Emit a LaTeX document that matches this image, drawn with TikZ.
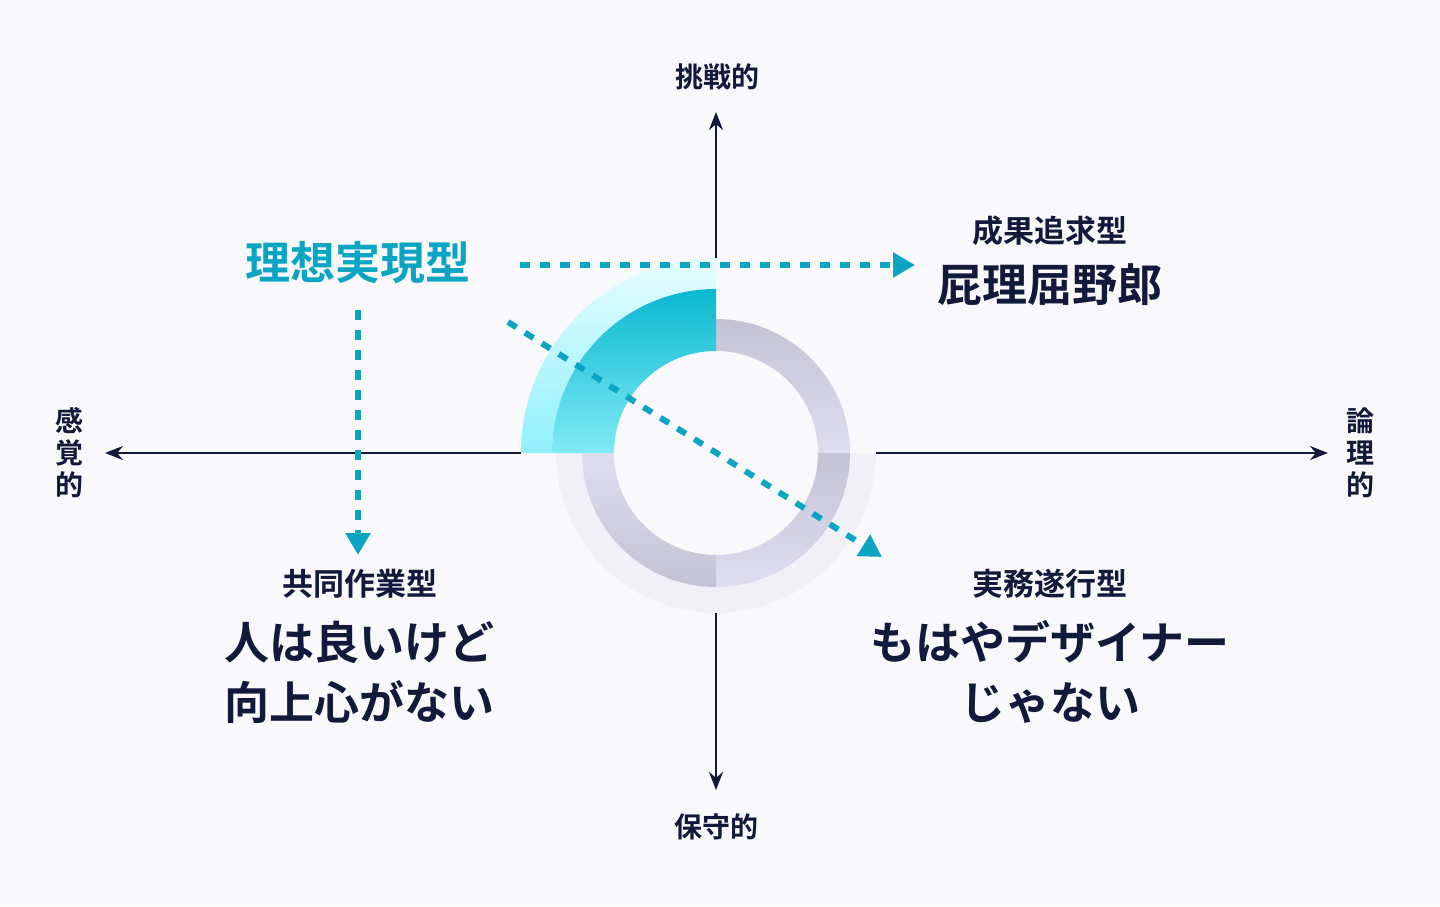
\documentclass[tikz,border=0pt]{standalone}
\usepackage{fontspec}
\setmainfont{Noto Sans CJK JP}[BoldFont={Noto Sans CJK JP Bold}]
\usetikzlibrary{positioning,arrows.meta}
\definecolor{ink}{HTML}{111A3B}
\definecolor{teal}{HTML}{0BA5C4}
\definecolor{faint}{HTML}{F1F0F7}
\definecolor{bgc}{HTML}{F9F9FC}
\definecolor{grayA}{HTML}{C4C2D5}
\definecolor{grayB}{HTML}{DFDEF1}
\definecolor{cyanA}{HTML}{09B9D1}
\definecolor{cyanB}{HTML}{80EAF6}
\definecolor{cyanC}{HTML}{E6FDFF}
\definecolor{cyanD}{HTML}{90F0FC}
\tikzset{axis/.style={draw=ink, line width=1.2pt, -{Stealth[length=9pt,width=7pt]}}}
\tikzset{dotarr/.style={draw=teal, line width=3pt, dash pattern=on 5pt off 5pt, -{Triangle[length=11pt,width=12pt]}}}
\tikzset{axlab/.style={text=ink, font=\bfseries\fontsize{14}{16}\selectfont, align=center}}
\tikzset{typelab/.style={text=ink, font=\bfseries\fontsize{15.5}{18}\selectfont}}
\tikzset{biglab/.style={text=ink, font=\bfseries\fontsize{22.5}{30}\selectfont, align=center}}
\newcommand\ringseg[4]{(#1:#3) -- (#1:#4) arc[start angle=#1, end angle=#2, radius=#4] -- (#2:#3) arc[start angle=#2, end angle=#1, radius=#3] -- cycle}
\begin{document}
\begin{tikzpicture}[x=1pt,y=1pt,scale=0.5]
			\fill[bgc] (-716,-453) rectangle (724,453);
			\useasboundingbox (-716,-453) rectangle (724,453);

			% faint outer ring
			\fill[faint] \ringseg{0}{-270}{134}{160};
			\shade[top color=grayA, bottom color=grayB] \ringseg{90}{0}{102}{134};
			\shade[top color=grayA, bottom color=grayB] \ringseg{0}{-90}{102}{134};
			\shade[top color=grayB, bottom color=grayA] \ringseg{-90}{-180}{102}{134};
			% highlighted quadrant
			\shade[shading angle=45, top color=cyanC, bottom color=cyanD] \ringseg{90}{180}{164}{195};
			\shade[top color=cyanA, bottom color=cyanB] \ringseg{90}{180}{102}{164};

			\node[axlab] (top) at (2,376) {挑戦的};
			\node[axlab] (bottom) at (0,-374) {保守的};
			\node[axlab] (left) at (-646,0) {感\\覚\\的};
			\node[axlab] (right) at (644,0) {論\\理\\的};
			\coordinate (ctop) at (0,195);
			\coordinate (cbot) at (0,-160);
			\coordinate (cleft) at (-195,0);
			\coordinate (cright) at (160,0);
			\draw[axis] (ctop) -- (0,341);
			\draw[axis] (cbot) -- (0,-337);
			\draw[axis] (cleft) -- (-611,0);
			\draw[axis] (cright) -- (612,0);

			\node[text=teal, font=\bfseries\fontsize{22.5}{26}\selectfont] (ideal) at (-358,190) {理想実現型};
			\node[typelab] (result) at (334,222) {成果追求型};
			\node[biglab] (resultbig) at (334,168) {屁理屈野郎};
			\node[typelab] (collab) at (-356,-131) {共同作業型};
			\node[biglab] (collabbig) at (-356,-219) {人は良いけど\\向上心がない};
			\node[typelab] (task) at (334,-131) {実務遂行型};
			\node[biglab] (taskbig) at (334,-219) {もはやデザイナー\\じゃない};

			\coordinate (h0) at (-196,188);
			\coordinate (v0) at (-358,143);
			\coordinate (d0) at (-208,131);
			\draw[dotarr] (h0) -- (199,188);
			\draw[dotarr] (v0) -- (-358,-102);
			\draw[dotarr] (d0) -- (166,-104);
		\end{tikzpicture}
\end{document}
